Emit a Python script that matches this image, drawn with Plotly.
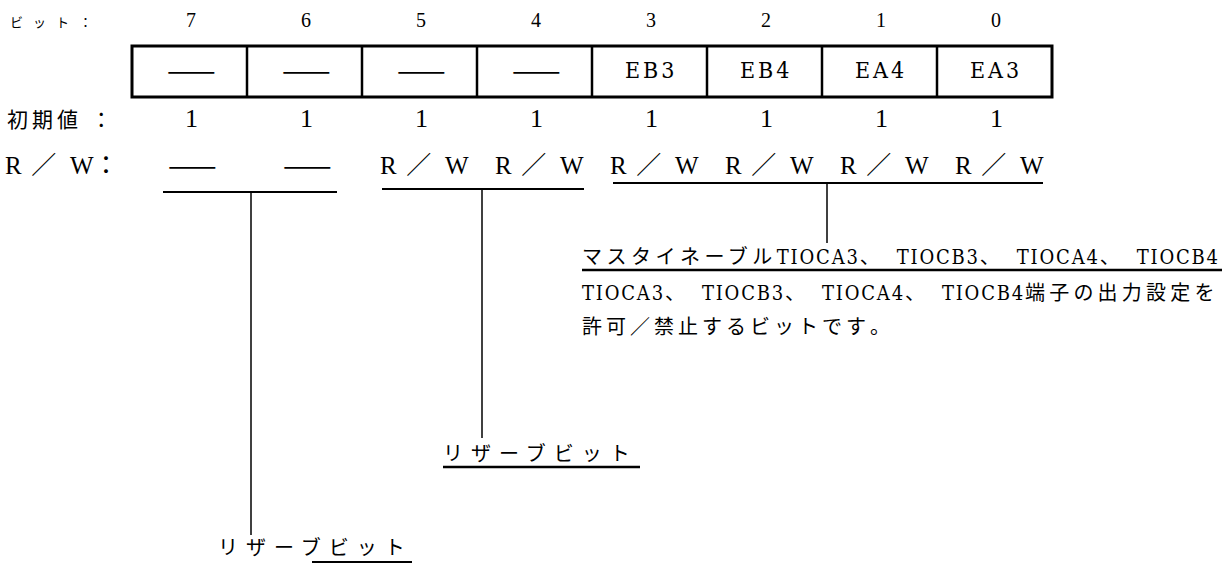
import plotly.graph_objects as go

# ---------------- data ----------------
bits = [7, 6, 5, 4, 3, 2, 1, 0]
bit_names = ["——", "——", "——", "——", "EB3", "EB4", "EA4", "EA3"]
initial_values = [1, 1, 1, 1, 1, 1, 1, 1]
rw_access = ["——", "——", "R／W", "R／W", "R／W", "R／W", "R／W", "R／W"]
row_labels = ["ビット：", "初期値 ：", "R／W："]
desc_enable_title = "マスタイネーブルTIOCA3、TIOCB3、TIOCA4、TIOCB4"
desc_enable_lines = ["TIOCA3、TIOCB3、TIOCA4、TIOCB4端子の出力設定を",
                     "許可／禁止するビットです。"]
desc_reserved = "リザーブビット"

# ---------------- layout constants ----------------
W, H = 1224, 565
X0, CELL_W = 132, 115
BOX_TOP, BOX_BOT = 46, 97
JP = "Noto Sans CJK JP"
SERIF = "Liberation Serif"
COND = "DejaVu Serif Condensed"


def cx(i):
    return X0 + CELL_W * i + CELL_W / 2


def rich(s, jp_ls=4.5, ascii_ls=1.8, comma_ls=17, jp_font=JP, ascii_font=COND):
    out = []
    body, last = s[:-1], s[-1]
    cur, kind = "", None

    def kind_of(ch):
        return "a" if ord(ch) < 128 else ("c" if ch == "、" else "j")

    def flush(t, k, ls=None):
        if not t:
            return
        fam = ascii_font if k == "a" else jp_font
        if ls is None:
            ls = ascii_ls if k == "a" else (comma_ls if k == "c" else jp_ls)
        out.append(f'<span style="font-family:{fam};letter-spacing:{ls}px">{t}</span>')
    for ch in body:
        k = kind_of(ch)
        if k != kind:
            flush(cur, kind)
            cur, kind = ch, k
        else:
            cur += ch
    flush(cur, kind)
    flush(last, kind_of(last), 0)
    return "".join(out)


def rw_text(label_colon=False):
    t = (f'<span style="font-family:{SERIF}">R</span>'
         f'<span style="font-family:{JP};letter-spacing:4px"> ／ </span>'
         f'<span style="font-family:{SERIF}">W</span>')
    if label_colon:
        t += f'<span style="font-family:{JP}">：</span>'
    return t


fig = go.Figure()
shapes = []
ann = []
LINE = dict(color="black", width=1.5)

# register box
shapes.append(dict(type="rect", x0=X0, x1=X0 + CELL_W * len(bits), y0=BOX_TOP, y1=BOX_BOT,
                   line=dict(color="black", width=3)))
for i in range(1, len(bits)):
    shapes.append(dict(type="line", x0=X0 + CELL_W * i, x1=X0 + CELL_W * i, y0=BOX_TOP, y1=BOX_BOT,
                       line=dict(color="black", width=2.5)))

for i, b in enumerate(bits):
    ann.append(dict(x=cx(i) + 1, y=20, text=str(b), font=dict(family=SERIF, size=20, color="black")))
    name = bit_names[i]
    if name == "——":
        ann.append(dict(x=cx(i) + 2, y=68, text=name, font=dict(family=JP, size=29, color="black")))
    else:
        ann.append(dict(x=cx(i) + 1, y=70, text=f'<span style="letter-spacing:3px">{name}</span>',
                        font=dict(family=COND, size=23, color="black")))
    ann.append(dict(x=cx(i) + 2, y=118, text=str(initial_values[i]),
                    font=dict(family=SERIF, size=26, color="black")))
    rw = rw_access[i]
    if rw == "——":
        ann.append(dict(x=cx(i) + 3, y=163, text=rw, font=dict(family=JP, size=29, color="black")))
    else:
        ann.append(dict(x=cx(i) + 5, y=163, text=rw_text(),
                        font=dict(family=SERIF, size=25, color="black")))

# row labels
ann.append(dict(x=8, y=21, xanchor="left",
                text=f'<span style="letter-spacing:10px">{row_labels[0]}</span>',
                font=dict(family=JP, size=13, color="black")))
ann.append(dict(x=5, y=118, xanchor="left",
                text=f'<span style="letter-spacing:4px">{row_labels[1]}</span>',
                font=dict(family=JP, size=21, color="black")))
ann.append(dict(x=3, y=163, xanchor="left", text=rw_text(True),
                font=dict(family=SERIF, size=25, color="black")))

# group underlines and leader lines
ul = [(163, 337, 192), (382, 584, 189), (613, 1043, 183)]
leaders = [(251, 535), (482, 438), (827, 243)]
for (x0, x1, y), (lx, ly) in zip(ul, leaders):
    shapes.append(dict(type="line", x0=x0, x1=x1, y0=y, y1=y, line=dict(color="black", width=2)))
    shapes.append(dict(type="line", x0=lx, x1=lx, y0=y, y1=ly, line=LINE))

# description for bits 3-0
ann.append(dict(x=580, y=255, xanchor="left", text=rich(desc_enable_title),
                font=dict(family=JP, size=20, color="black")))
shapes.append(dict(type="line", x0=582, x1=1222, y0=270, y1=270, line=dict(color="black", width=2.5)))
ann.append(dict(x=580, y=291, xanchor="left", text=rich(desc_enable_lines[0], jp_ls=4.2),
                font=dict(family=JP, size=20, color="black")))
ann.append(dict(x=580, y=325, xanchor="left", text=rich(desc_enable_lines[1], jp_ls=4),
                font=dict(family=JP, size=20, color="black")))

# reserved bits 5-4
ann.append(dict(x=441, y=452, xanchor="left",
                text=f'<span style="letter-spacing:8px">{desc_reserved}</span>',
                font=dict(family=JP, size=20, color="black")))
shapes.append(dict(type="line", x0=443, x1=640, y0=467, y1=467, line=dict(color="black", width=2.5)))

# reserved bits 7-6
ann.append(dict(x=216, y=546, xanchor="left",
                text=f'<span style="letter-spacing:8px">{desc_reserved}</span>',
                font=dict(family=JP, size=20, color="black")))
shapes.append(dict(type="line", x0=312, x1=412, y0=562, y1=562, line=dict(color="black", width=2)))

for a in ann:
    a.setdefault("xanchor", "center")
    a.update(xref="x", yref="y", showarrow=False, yanchor="middle")

fig.update_layout(
    width=W, height=H, margin=dict(l=0, r=0, t=0, b=0),
    paper_bgcolor="white", plot_bgcolor="white",
    xaxis=dict(range=[0, W], visible=False, fixedrange=True),
    yaxis=dict(range=[H, 0], visible=False, fixedrange=True),
    shapes=shapes, annotations=ann, showlegend=False,
)
fig.write_html("out.html", config={"displayModeBar": False},
               post_script="document.body.style.margin='0';document.body.style.overflow='hidden';")
